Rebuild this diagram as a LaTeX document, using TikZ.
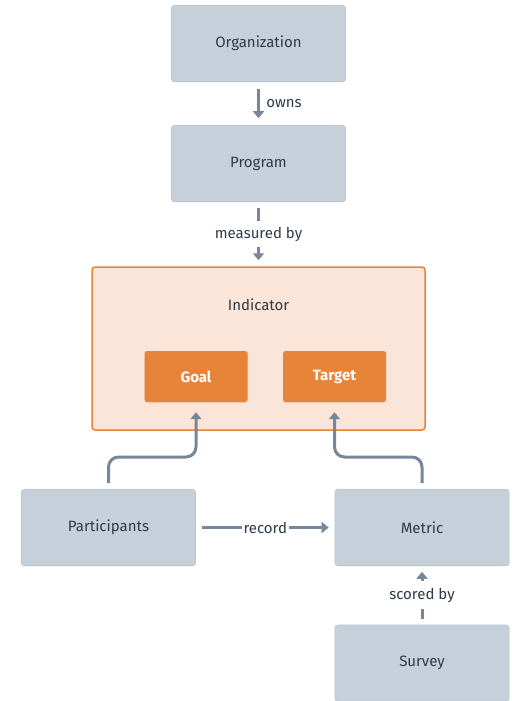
\documentclass[tikz,border=0pt]{standalone}
\usepackage{fontspec}
\setmainfont{Fira Sans}
\usetikzlibrary{arrows.meta,calc,shadows}
\definecolor{boxgray}{HTML}{C5D0DA}
\definecolor{boxline}{HTML}{BAC6D1}
\definecolor{txt}{HTML}{2E3A47}
\definecolor{conn}{HTML}{76879A}
\definecolor{orng}{HTML}{E8843A}
\definecolor{lorng}{HTML}{FAE5D8}
\begin{document}
\begin{tikzpicture}[x=1pt,y=-1pt,
  every node/.style={font=\fontsize{15}{17}\selectfont, text=txt},
  gbox/.style={rectangle, rounded corners=2.5pt, fill=boxgray, draw=boxline, line width=0.6pt,
    minimum width=174pt, minimum height=76pt,
    drop shadow={opacity=0.12, shadow xshift=0pt, shadow yshift=-1pt}},
  obox/.style={rectangle, rounded corners=2.5pt, fill=orng, draw=none,
    minimum width=103pt, minimum height=51pt, text=white, font=\fontsize{15}{17}\selectfont\bfseries,
    drop shadow={opacity=0.15, shadow xshift=0pt, shadow yshift=-1pt}},
  container/.style={rectangle, rounded corners=3pt, fill=lorng, draw=orng, line width=1.5pt,
    minimum width=333pt, minimum height=163pt},
  conn/.style={draw=conn, line width=3pt, -{Triangle[length=7pt,width=11pt]}},
  lbl/.style={fill=white, inner xsep=2pt, inner ysep=6pt}
]
\useasboundingbox (0,0) rectangle (517,701);
\fill[white] (0,0) rectangle (517,701);

\node[gbox] (org) at (258.5,43.5) {Organization};
\node[gbox] (prog) at (258.5,163.5) {Program};
\node[container] (ind) at (258.5,348.5) {};
\node (indlbl) at (258.5,305) {Indicator};
\node[obox] (goal) at (196,376.5) {Goal};
\node[obox] (targ) at (334.5,376.5) {Target};
\node[gbox] (part) at (108.5,527.5) {Participants};
\node[gbox] (met) at (422,527.5) {Metric};
\node[gbox] (surv) at (422,663) {Survey};

\draw[conn, shorten <=7pt, shorten >=7pt] (org) -- (prog)
  node[midway, right=3pt] {owns};
\draw[conn, shorten <=6pt, shorten >=6pt] (prog) -- (ind)
  node[midway, lbl] {measured by};
\draw[conn, shorten <=6pt, shorten >=6pt] (part) -- (met)
  node[midway, lbl, inner ysep=3pt] {record};
\draw[conn, shorten <=6pt, shorten >=6pt] (surv) -- (met)
  node[midway, lbl, inner ysep=7pt] {scored by};
\draw[conn, rounded corners=10pt, shorten <=6pt, shorten >=10pt]
  (part.north) -- (part.north |- 0,457) -| (goal.south);
\draw[conn, rounded corners=10pt, shorten <=6pt, shorten >=10pt]
  (met.north) -- (met.north |- 0,457) -| (targ.south);
\end{tikzpicture}
\end{document}
